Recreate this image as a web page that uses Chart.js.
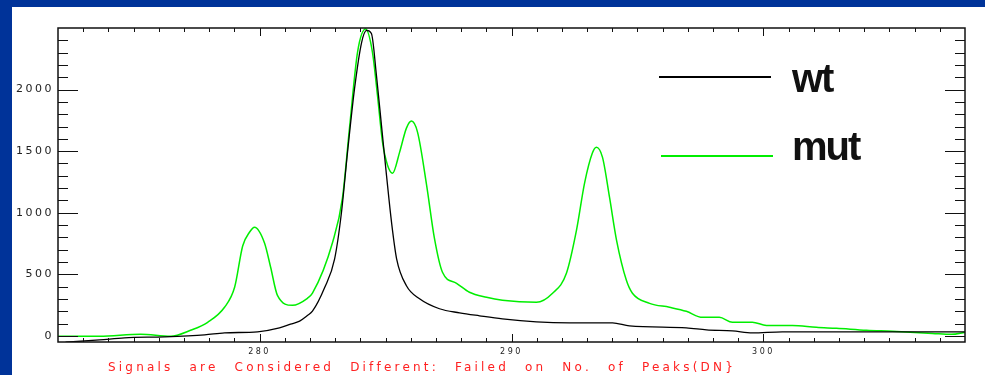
<!DOCTYPE html>
<html>
<head>
<meta charset="utf-8">
<script src="https://cdn.jsdelivr.net/npm/chart.js@4.4.0/dist/chart.umd.min.js"></script>
<style>
  body { margin: 0; width: 985px; height: 375px; overflow: hidden; background: #003399; position: relative; }
  #panel { position: absolute; left: 12px; top: 7px; width: 973px; height: 368px; background: #fff; }
  #note {
    position: absolute; left: 96px; top: 354px;
    font: 12px "DejaVu Sans", sans-serif; line-height: 12px;
    letter-spacing: 3.2px; word-spacing: 9px; color: #ff2020; white-space: pre;
  }
</style>
</head>
<body>
<div id="panel">
  <canvas id="chart" width="973" height="368"></canvas>
  <div id="note">Signals are Considered Different: Failed on No. of Peaks(DN}</div>
</div>
<script>
// wt spectrum (energy, counts)
const wtEnergy = [272.3, 273.65, 274.64, 276.23, 277.82, 278.61, 279.92, 280.79, 281.23, 281.59, 281.9, 282.1,
  282.58, 282.98, 283.25, 283.49, 283.77, 284.05, 284.25, 284.44, 284.64, 284.84, 285.04, 285.24, 285.44,
  285.83, 286.35, 287.14, 287.94, 288.73, 289.64, 290.99, 292.3, 294.01, 294.68, 296.94, 297.74, 298.77,
  299.56, 300.75, 308];
const wtCounts = [-52, -33, -16, -8, 8, 24, 33, 65, 95, 120, 165, 200, 390, 626, 1000, 1488, 2008, 2382, 2480,
  2455, 2114, 1707, 1301, 919, 626, 407, 301, 220, 187, 163, 138, 114, 106, 106, 81, 65, 49, 41, 24, 33, 33];

// mut spectrum
const mutEnergy = [271.98, 273.65, 275.28, 276.47, 277.26, 277.94, 278.61, 279.01, 279.33, 279.6, 279.8, 280.2,
  280.44, 280.71, 281.31, 281.9, 282.1, 282.9, 283.29, 283.57, 283.89, 284.21, 284.48, 284.68, 284.88, 285.08,
  285.28, 285.56, 285.83, 286.03, 286.27, 286.63, 286.94, 287.26, 287.82, 288.33, 289.01, 289.64, 290.99,
  291.63, 292.18, 292.58, 292.9, 293.21, 293.37, 293.61, 293.89, 294.17, 294.56, 294.8, 295.48, 296.27,
  296.94, 297.58, 298.25, 298.77, 299.56, 300.12, 301.15, 302.1, 302.9, 304.09, 305.12, 306.71, 307.46, 308];
const mutCounts = [-4, -4, 12, -4, 45, 110, 232, 394, 730, 841, 882, 752, 557, 329, 248, 305, 346, 760, 1118,
  1687, 2305, 2492, 2305, 1955, 1573, 1386, 1321, 1492, 1687, 1744, 1654, 1224, 793, 516, 427, 354, 313, 289,
  272, 346, 508, 858, 1240, 1484, 1532, 1451, 1126, 776, 451, 346, 264, 232, 199, 150, 150, 110, 110, 85, 85,
  69, 61, 45, 37, 20, 12, 28];

const xTickValues = [280, 290, 300];
const yTickValues = [0, 500, 1000, 1500, 2000];

const toPoints = (xs, ys) => xs.map((x, i) => ({ x: x, y: ys[i] }));

// inward tick marks on all four sides + frame
const frameTicks = {
  id: 'frameTicks',
  afterDatasetsDraw(chart) {
    const { ctx, chartArea: a, scales: { x, y } } = chart;
    ctx.save();
    ctx.strokeStyle = '#111';
    ctx.lineWidth = 1;
    ctx.beginPath();
    for (let v = 0; v <= 2400; v += 100) {
      const py = Math.round(y.getPixelForValue(v)) + 0.5;
      const len = v % 500 === 0 ? 20 : 10;
      ctx.moveTo(a.left, py); ctx.lineTo(a.left + len, py);
      ctx.moveTo(a.right, py); ctx.lineTo(a.right - len, py);
    }
    for (let v = 273; v < 308; v++) {
      const px = Math.round(x.getPixelForValue(v)) + 0.5;
      const len = v % 10 === 0 ? 8 : 4;
      ctx.moveTo(px, a.bottom); ctx.lineTo(px, a.bottom - len);
      ctx.moveTo(px, a.top); ctx.lineTo(px, a.top + len);
    }
    ctx.stroke();
    ctx.lineWidth = 1.5;
    ctx.strokeRect(a.left, a.top, a.right - a.left, a.bottom - a.top);
    ctx.restore();
  }
};

// legend drawn inside the plot, long line samples with big bold labels
const sideLegend = {
  id: 'sideLegend',
  beforeDraw(chart) {
    chart.ctx.letterSpacing = '2.5px';
  },
  afterDraw(chart) {
    const ctx = chart.ctx;
    const rows = [{ y: 70, base: 85 }, { y: 149, base: 153 }];
    ctx.save();
    ctx.letterSpacing = '-2px';
    chart.data.datasets.forEach((ds, i) => {
      const r = rows[i];
      ctx.strokeStyle = ds.borderColor;
      ctx.lineWidth = 2;
      ctx.beginPath();
      ctx.moveTo(647 + i * 2, r.y);
      ctx.lineTo(759 + i * 2, r.y);
      ctx.stroke();
      ctx.fillStyle = '#111';
      ctx.font = 'bold 40px "Liberation Sans", Arial, sans-serif';
      ctx.textBaseline = 'alphabetic';
      ctx.fillText(ds.label, 780, r.base);
    });
    ctx.restore();
  }
};

new Chart(document.getElementById('chart'), {
  type: 'line',
  data: {
    datasets: [{
      label: 'wt',
      data: toPoints(wtEnergy, wtCounts),
      borderColor: '#000000',
      borderWidth: 1.3,
      pointRadius: 0,
      cubicInterpolationMode: 'monotone'
    }, {
      label: 'mut',
      data: toPoints(mutEnergy, mutCounts),
      borderColor: '#00ee00',
      borderWidth: 1.5,
      pointRadius: 0,
      cubicInterpolationMode: 'monotone'
    }]
  },
  options: {
    responsive: false,
    animation: false,
    layout: { padding: { left: 0, top: 21, right: 20, bottom: 0 } },
    plugins: { legend: { display: false }, tooltip: { enabled: false } },
    scales: {
      x: {
        type: 'linear',
        min: 272,
        max: 308,
        afterBuildTicks: s => { s.ticks = xTickValues.map(v => ({ value: v })); },
        afterFit: s => { s.height = 33; },
        grid: { display: false, drawTicks: false },
        border: { display: false },
        ticks: {
          padding: 5,
          color: '#222',
          font: { family: '"DejaVu Sans", sans-serif', size: 8 },
          callback: v => String(v)
        }
      },
      y: {
        min: -50,
        max: 2500,
        afterBuildTicks: s => { s.ticks = yTickValues.map(v => ({ value: v })); },
        afterFit: s => { s.width = 46; },
        grid: { display: false, drawTicks: false },
        border: { display: false },
        ticks: {
          padding: 4,
          color: '#222',
          font: { family: '"DejaVu Sans", sans-serif', size: 11 },
          callback: v => String(v)
        }
      }
    }
  },
  plugins: [frameTicks, sideLegend]
});
</script>
</body>
</html>
